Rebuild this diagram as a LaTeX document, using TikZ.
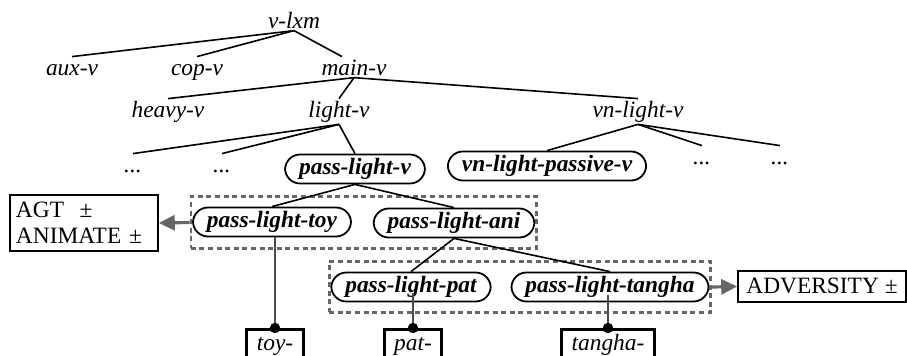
\documentclass[tikz,border=0pt]{standalone}
\usepackage{fontspec}
\setmainfont{Liberation Serif}
\usetikzlibrary{arrows.meta,fit}
\newcommand{\diagfont}{\fontsize{11.7}{13}\selectfont}
\tikzset{
	lbl/.style={font=\diagfont\itshape, anchor=base, inner sep=1pt, text height=8pt},
	pbox/.style={draw, line width=0.9pt, rounded corners=7.5pt, font=\diagfont\bfseries\itshape, inner xsep=7pt, inner ysep=2pt, text height=8pt, text depth=2.5pt},
	grp/.style={draw=black!60, line width=1.3pt, dash pattern=on 2.5pt off 1.8pt, inner xsep=0.6pt, inner ysep=5pt},
	feat/.style={draw, line width=0.8pt, font=\diagfont, inner xsep=3pt},
	morph/.style={draw, line width=1.4pt, font=\diagfont\itshape, anchor=north, inner xsep=5pt, inner ysep=1.5pt, text height=9pt, text depth=5pt},
	garrow/.style={draw=black!60, line width=1.6pt, -{Triangle[length=8pt,width=7.5pt]}},
	vline/.style={draw=black!70, line width=0.6pt},
	tree/.style={line width=0.8pt}
}
\begin{document}
\begin{tikzpicture}[x=0.5pt,y=0.5pt]
			\useasboundingbox (0,0) rectangle (907,355);
			\clip (0,0) rectangle (907,355);
			\node[lbl] (vlxm) at (294,327) {v-lxm};
			\node[lbl] (auxv) at (72,280) {aux-v};
			\node[lbl] (copv) at (197,280) {cop-v};
			\node[lbl] (mainv) at (354,280) {main-v};
			\node[lbl] (heavyv) at (168,238) {heavy-v};
			\node[lbl] (lightv) at (339,238) {light-v};
			\node[lbl] (vnlightv) at (638,238) {vn-light-v};
			\node[lbl] (dotsa) at (133,183) {...};
			\node[lbl] (dotsb) at (222,183) {...};
			\node[lbl] (dotsc) at (702,191) {...};
			\node[lbl] (dotsd) at (780,191) {...};
			\node[pbox] (plv) at (355,186) {pass-light-v};
			\node[pbox] (vnpass) at (547,189) {vn-light-passive-v};
			\node[pbox] (pltoy) at (272,133) {pass-light-toy};
			\node[pbox] (plani) at (454,132) {pass-light-ani};
			\node[pbox] (plpat) at (411,68) {pass-light-pat};
			\node[pbox] (pltangha) at (610,68) {pass-light-tangha};
			\node[grp, fit=(pltoy)(plani)] (grpa) {};
			\node[grp, fit=(plpat)(pltangha)] (grpb) {};
			\node[feat, align=left, text width=68pt, inner ysep=3.5pt] (agt) at (84,132) {AGT~~±\\ANIMATE~±};
			\node[feat, minimum width=84pt, minimum height=15.5pt, text height=8pt, text depth=1pt] (adv) at (822,68.5) {ADVERSITY ±};
			\node[morph] (toy) at (275,27) {toy-};
			\node[morph] (pat) at (413,27) {pat-};
			\node[morph] (tangha) at (608,27) {tangha-};
			\draw[tree] (vlxm.south) -- (auxv.north);
			\draw[tree] (vlxm.south) -- (copv.north);
			\draw[tree] (vlxm.south) -- ([xshift=-6pt]mainv.north);
			\draw[tree] (mainv.south) -- (heavyv.north);
			\draw[tree] (mainv.south) -- (lightv.north);
			\draw[tree] (mainv.south) -- (vnlightv.north);
			\draw[tree] (lightv.south) -- (dotsa.north);
			\draw[tree] (lightv.south) -- (dotsb.north);
			\draw[tree] (lightv.south) -- (plv.north);
			\draw[tree] (vnlightv.south) -- (vnpass.north);
			\draw[tree] (vnlightv.south) -- (dotsc.north);
			\draw[tree] (vnlightv.south) -- (dotsd.north);
			\draw[tree] (plv.south) -- (pltoy.north);
			\draw[tree] (plv.south) -- (plani.north);
			\draw[tree] (plani.south) -- (plpat.north);
			\draw[tree] (plani.south) -- (pltangha.north);
			\draw[garrow] (grpa.west) -- (agt.east);
			\draw[garrow] (grpb.east) -- (adv.west);
			\coordinate (patend) at ([yshift=-3pt]plpat.center);
			\coordinate (tanghaend) at ([yshift=-4pt]pltangha.center);
			\draw[vline] (pltoy.south -| toy.north) -- (toy.north);
			\draw[vline] (patend -| pat.north) -- (pat.north);
			\draw[vline] (tanghaend -| tangha.north) -- (tangha.north);
			\foreach \m in {toy,pat,tangha}
			\fill (\m.north) circle (2.6pt);
\end{tikzpicture}
\end{document}
